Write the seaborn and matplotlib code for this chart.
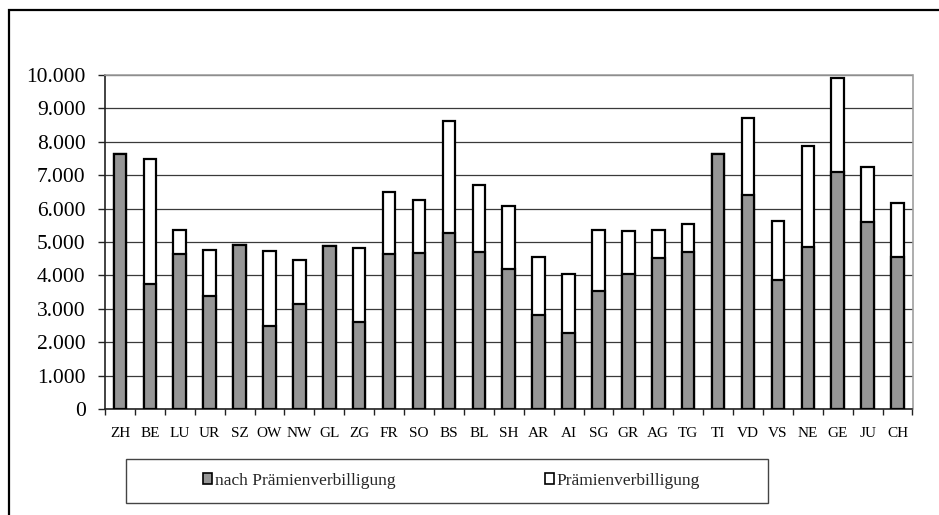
import matplotlib
matplotlib.use("Agg")
import matplotlib.pyplot as plt
from matplotlib.patches import Patch, Rectangle
from matplotlib.ticker import FuncFormatter, MultipleLocator
import numpy as np
import pandas as pd
import seaborn as sns

# Kantone und Werte (Franken)
cantons = ["ZH", "BE", "LU", "UR", "SZ", "OW", "NW", "GL", "ZG", "FR", "SO", "BS", "BL", "SH",
           "AR", "AI", "SG", "GR", "AG", "TG", "TI", "VD", "VS", "NE", "GE", "JU", "CH"]
nach_pv = [7620, 3745, 4650, 3385, 4910, 2500, 3150, 4870, 2600, 4640, 4670, 5270, 4700, 4195,
           2830, 2280, 3545, 4035, 4510, 4690, 7620, 6395, 3855, 4860, 7090, 5590, 4560]
pv = [0, 3735, 720, 1375, 0, 2240, 1320, 0, 2220, 1855, 1595, 3355, 1990, 1870,
      1720, 1775, 1805, 1295, 860, 840, 0, 2310, 1785, 3020, 2800, 1660, 1615]
yticks = [0, 1000, 2000, 3000, 4000, 5000, 6000, 7000, 8000, 9000, 10000]

df = pd.DataFrame({"kanton": cantons, "nach": nach_pv, "pv": pv})
df["total"] = df["nach"] + df["pv"]

sns.set_theme(style="white")
plt.rcParams["font.family"] = ["Liberation Serif", "DejaVu Serif"]

gray = "#969696"
fig = plt.figure(figsize=(9.39, 5.15), dpi=100)
ax = fig.add_axes([105 / 939, 1 - 409.3 / 515, 807.5 / 939, 334.6 / 515])

sns.barplot(data=df, x="kanton", y="total", color="white", edgecolor="black",
            linewidth=1.6, width=0.42, saturation=1, ax=ax, zorder=3)
sns.barplot(data=df, x="kanton", y="nach", color=gray, edgecolor="black",
            linewidth=1.6, width=0.42, saturation=1, ax=ax, zorder=4)

ax.set_xlim(-0.5, len(cantons) - 0.5)
ax.set_ylim(0, 10000)
ax.set_yticks(yticks)
ax.yaxis.set_major_formatter(FuncFormatter(lambda v, p: f"{v:,.0f}".replace(",", ".")))
ax.set_xlabel("")
ax.set_ylabel("")

ax.grid(axis="y", color="#3a3a3a", lw=0.9, zorder=0)
ax.set_axisbelow(True)
for side in ["top", "right"]:
    ax.spines[side].set_color("#a0a0a0")
    ax.spines[side].set_linewidth(1.2)
for side in ["left", "bottom"]:
    ax.spines[side].set_color("#222222")
    ax.spines[side].set_linewidth(1.2)

ax.tick_params(axis="y", which="major", direction="out", length=5, width=1, color="#222222",
               left=True, pad=9, labelsize=15.5, labelcolor="black")
ax.xaxis.set_minor_locator(MultipleLocator(1, offset=0.5))
ax.tick_params(axis="x", which="major", length=0, pad=13, labelsize=11, labelcolor="black")
ax.tick_params(axis="x", which="minor", direction="out", length=4, width=1, color="#222222",
               bottom=True)

# Legende
handles = [Patch(facecolor=gray, edgecolor="black", lw=1.2, label="nach Prämienverbilligung"),
           Patch(facecolor="white", edgecolor="black", lw=1.2, label="Prämienverbilligung")]
fig.legend(handles=handles, loc="center", bbox_to_anchor=(451.5 / 939, 1 - 481 / 515),
           ncol=2, frameon=False, fontsize=12.5, handlelength=0.55, handleheight=0.6,
           handletextpad=0.15, columnspacing=8.6, borderpad=0)
fig.patches.append(Rectangle((126 / 939, 1 - 503 / 515), 642 / 939, 44 / 515,
                             transform=fig.transFigure, fill=False, edgecolor="#444444", lw=1.0))

# Rahmen um das Diagramm
fig.patches.append(Rectangle((8.5 / 939, -0.2), 1.2, 1.2 - 10 / 515,
                             transform=fig.transFigure, fill=False, edgecolor="black", lw=1.6))

fig.savefig("out.png", dpi=100)
